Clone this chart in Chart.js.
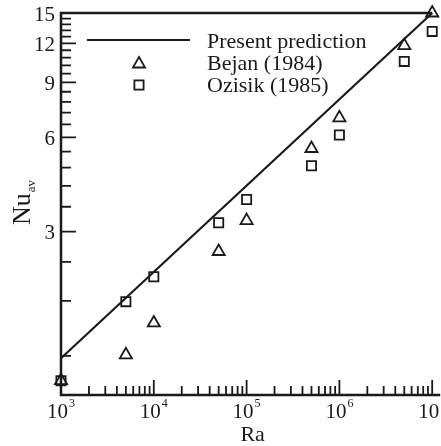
<!DOCTYPE html>
<html>
<head>
<meta charset="utf-8">
<script src="https://cdn.jsdelivr.net/npm/chart.js@4/dist/chart.umd.min.js"></script>
<style>
  html, body { margin: 0; padding: 0; background: #fff; overflow: hidden; }
</style>
</head>
<body>
<canvas id="nuChart" width="441" height="446"></canvas>
<script>
// Average Nusselt number against Rayleigh number
const predRa = [1e3, 1e7];
const predNu = [1.18, 15];

const bejanRa = [1e3, 5e3, 1e4, 5e4, 1e5, 5e5, 1e6, 5e6, 1e7];
const bejanNu = [1.0, 1.21, 1.53, 2.59, 3.25, 5.53, 6.93, 11.8, 15];

const ozisikRa = [1e3, 5e3, 1e4, 5e4, 1e5, 5e5, 1e6, 5e6, 1e7];
const ozisikNu = [1.0, 1.79, 2.15, 3.2, 3.8, 4.87, 6.11, 10.5, 13.1];

const xMajor = [1e3, 1e4, 1e5, 1e6, 1e7];
const yMajor = [3, 6, 9, 12, 15];

const ink = '#1a1a1a';
const serif = '"Liberation Serif", "Times New Roman", serif';

function pts(xs, ys) {
  return xs.map((x, i) => ({ x: x, y: ys[i] }));
}

// minor ticks: 2..9 per decade on x, steps of 0.6 on y
const xMinor = [];
for (let d = 1e3; d < 1e7; d *= 10) {
  for (let k = 2; k <= 9; k++) xMinor.push(d * k);
}
const yMinor = [];
for (let v = 1.2; v < 15; v += 0.6) {
  const r = Math.round(v * 10) / 10;
  if (r % 3 !== 0) yMinor.push(r);
}

function drawTri(ctx, x, y, r) {
  ctx.beginPath();
  for (let i = 0; i < 3; i++) {
    const a = i * 2 * Math.PI / 3;
    const px = x + Math.sin(a) * r, py = y - Math.cos(a) * r;
    if (i === 0) ctx.moveTo(px, py); else ctx.lineTo(px, py);
  }
  ctx.closePath();
  ctx.stroke();
}

function drawSq(ctx, x, y, r) {
  const s = Math.SQRT1_2 * r;
  ctx.strokeRect(x - s, y - s, 2 * s, 2 * s);
}

const axesPlugin = {
  id: 'axesPlugin',
  afterDraw(chart) {
    const ctx = chart.ctx;
    const { left, right, top, bottom } = chart.chartArea;
    const xs = chart.scales.x, ys = chart.scales.y;
    ctx.save();
    ctx.strokeStyle = ink;
    ctx.fillStyle = ink;

    // frame
    ctx.lineWidth = 2.5;
    ctx.beginPath();
    ctx.moveTo(right, top);
    ctx.lineTo(left, top);
    ctx.lineTo(left, bottom);
    ctx.lineTo(right + 8, bottom);
    ctx.stroke();

    // x ticks, pointing inward
    ctx.lineWidth = 1.8;
    ctx.beginPath();
    xMajor.forEach(v => {
      const p = xs.getPixelForValue(v);
      ctx.moveTo(p, bottom); ctx.lineTo(p, bottom - 15);
    });
    xMinor.forEach(v => {
      const p = xs.getPixelForValue(v);
      ctx.moveTo(p, bottom); ctx.lineTo(p, bottom - 9);
    });
    // y ticks
    yMajor.forEach(v => {
      const p = ys.getPixelForValue(v);
      ctx.moveTo(left, p); ctx.lineTo(left + 15, p);
    });
    yMinor.forEach(v => {
      const p = ys.getPixelForValue(v);
      ctx.moveTo(left, p); ctx.lineTo(left + 10, p);
    });
    ctx.stroke();

    // x tick labels as powers of ten
    xMajor.forEach(v => {
      const p = xs.getPixelForValue(v);
      const exp = String(Math.round(Math.log10(v)));
      ctx.font = '21px ' + serif;
      const w1 = ctx.measureText('10').width;
      ctx.font = '12px ' + serif;
      const w2 = ctx.measureText(exp).width;
      const x0 = p - (w1 + w2 + 1) / 2;
      ctx.textAlign = 'left';
      ctx.textBaseline = 'alphabetic';
      ctx.font = '21px ' + serif;
      ctx.fillText('10', x0, bottom + 23);
      ctx.font = '12px ' + serif;
      ctx.fillText(exp, x0 + w1 + 1, bottom + 12);
    });

    // y tick labels
    ctx.font = '21px ' + serif;
    ctx.textAlign = 'right';
    ctx.textBaseline = 'middle';
    yMajor.forEach(v => {
      ctx.fillText(String(v), left - 6, ys.getPixelForValue(v) + 2);
    });

    // axis titles
    ctx.font = '22px ' + serif;
    ctx.textAlign = 'center';
    ctx.textBaseline = 'alphabetic';
    ctx.fillText('Ra', (left + right) / 2 + 6, 441);

    ctx.save();
    ctx.translate(30, 225);
    ctx.rotate(-Math.PI / 2);
    ctx.textAlign = 'left';
    ctx.font = '26px ' + serif;
    ctx.fillText('Nu', 0, 0);
    const wNu = ctx.measureText('Nu').width;
    ctx.font = '13px ' + serif;
    ctx.fillText('av', wNu + 1, 5);
    ctx.restore();

    // legend
    const ds = chart.data.datasets;
    ctx.font = '22px ' + serif;
    ctx.textAlign = 'left';
    ctx.textBaseline = 'middle';
    const lx = left + 146;
    ctx.lineWidth = 2.2;
    ctx.beginPath();
    ctx.moveTo(left + 26, top + 27);
    ctx.lineTo(left + 129, top + 27);
    ctx.stroke();
    ctx.fillText(ds[0].label, lx, top + 29);
    ctx.lineWidth = 1.8;
    drawTri(ctx, left + 78, top + 51, 7);
    ctx.fillText(ds[1].label, lx, top + 51);
    drawSq(ctx, left + 78, top + 72, 6.5);
    ctx.fillText(ds[2].label, lx, top + 73);

    ctx.restore();
  }
};

new Chart(document.getElementById('nuChart'), {
  type: 'scatter',
  data: {
    datasets: [
      {
        type: 'line',
        label: 'Present prediction',
        data: pts(predRa, predNu),
        borderColor: ink,
        borderWidth: 2.2,
        pointRadius: 0,
        clip: false
      },
      {
        label: 'Bejan (1984)',
        data: pts(bejanRa, bejanNu),
        pointStyle: 'triangle',
        pointRadius: 7,
        borderColor: ink,
        borderWidth: 1.8,
        backgroundColor: 'rgba(0,0,0,0)',
        clip: false
      },
      {
        label: 'Ozisik (1985)',
        data: pts(ozisikRa, ozisikNu),
        pointStyle: 'rect',
        pointRadius: 6.5,
        borderColor: ink,
        borderWidth: 1.8,
        backgroundColor: 'rgba(0,0,0,0)',
        clip: false
      }
    ]
  },
  options: {
    responsive: false,
    animation: false,
    devicePixelRatio: 1,
    layout: { padding: { top: 13, right: 8, left: 0, bottom: 0 } },
    scales: {
      x: {
        type: 'logarithmic',
        min: 1e3,
        max: 1e7,
        grid: { display: false },
        border: { display: false },
        ticks: { display: false },
        afterFit(s) { s.height = 51; }
      },
      y: {
        type: 'logarithmic',
        min: 0.9,
        max: 15,
        grid: { display: false },
        border: { display: false },
        ticks: { display: false },
        afterFit(s) { s.width = 61; }
      }
    },
    plugins: {
      legend: { display: false },
      tooltip: { enabled: false }
    }
  },
  plugins: [axesPlugin]
});
</script>
</body>
</html>
